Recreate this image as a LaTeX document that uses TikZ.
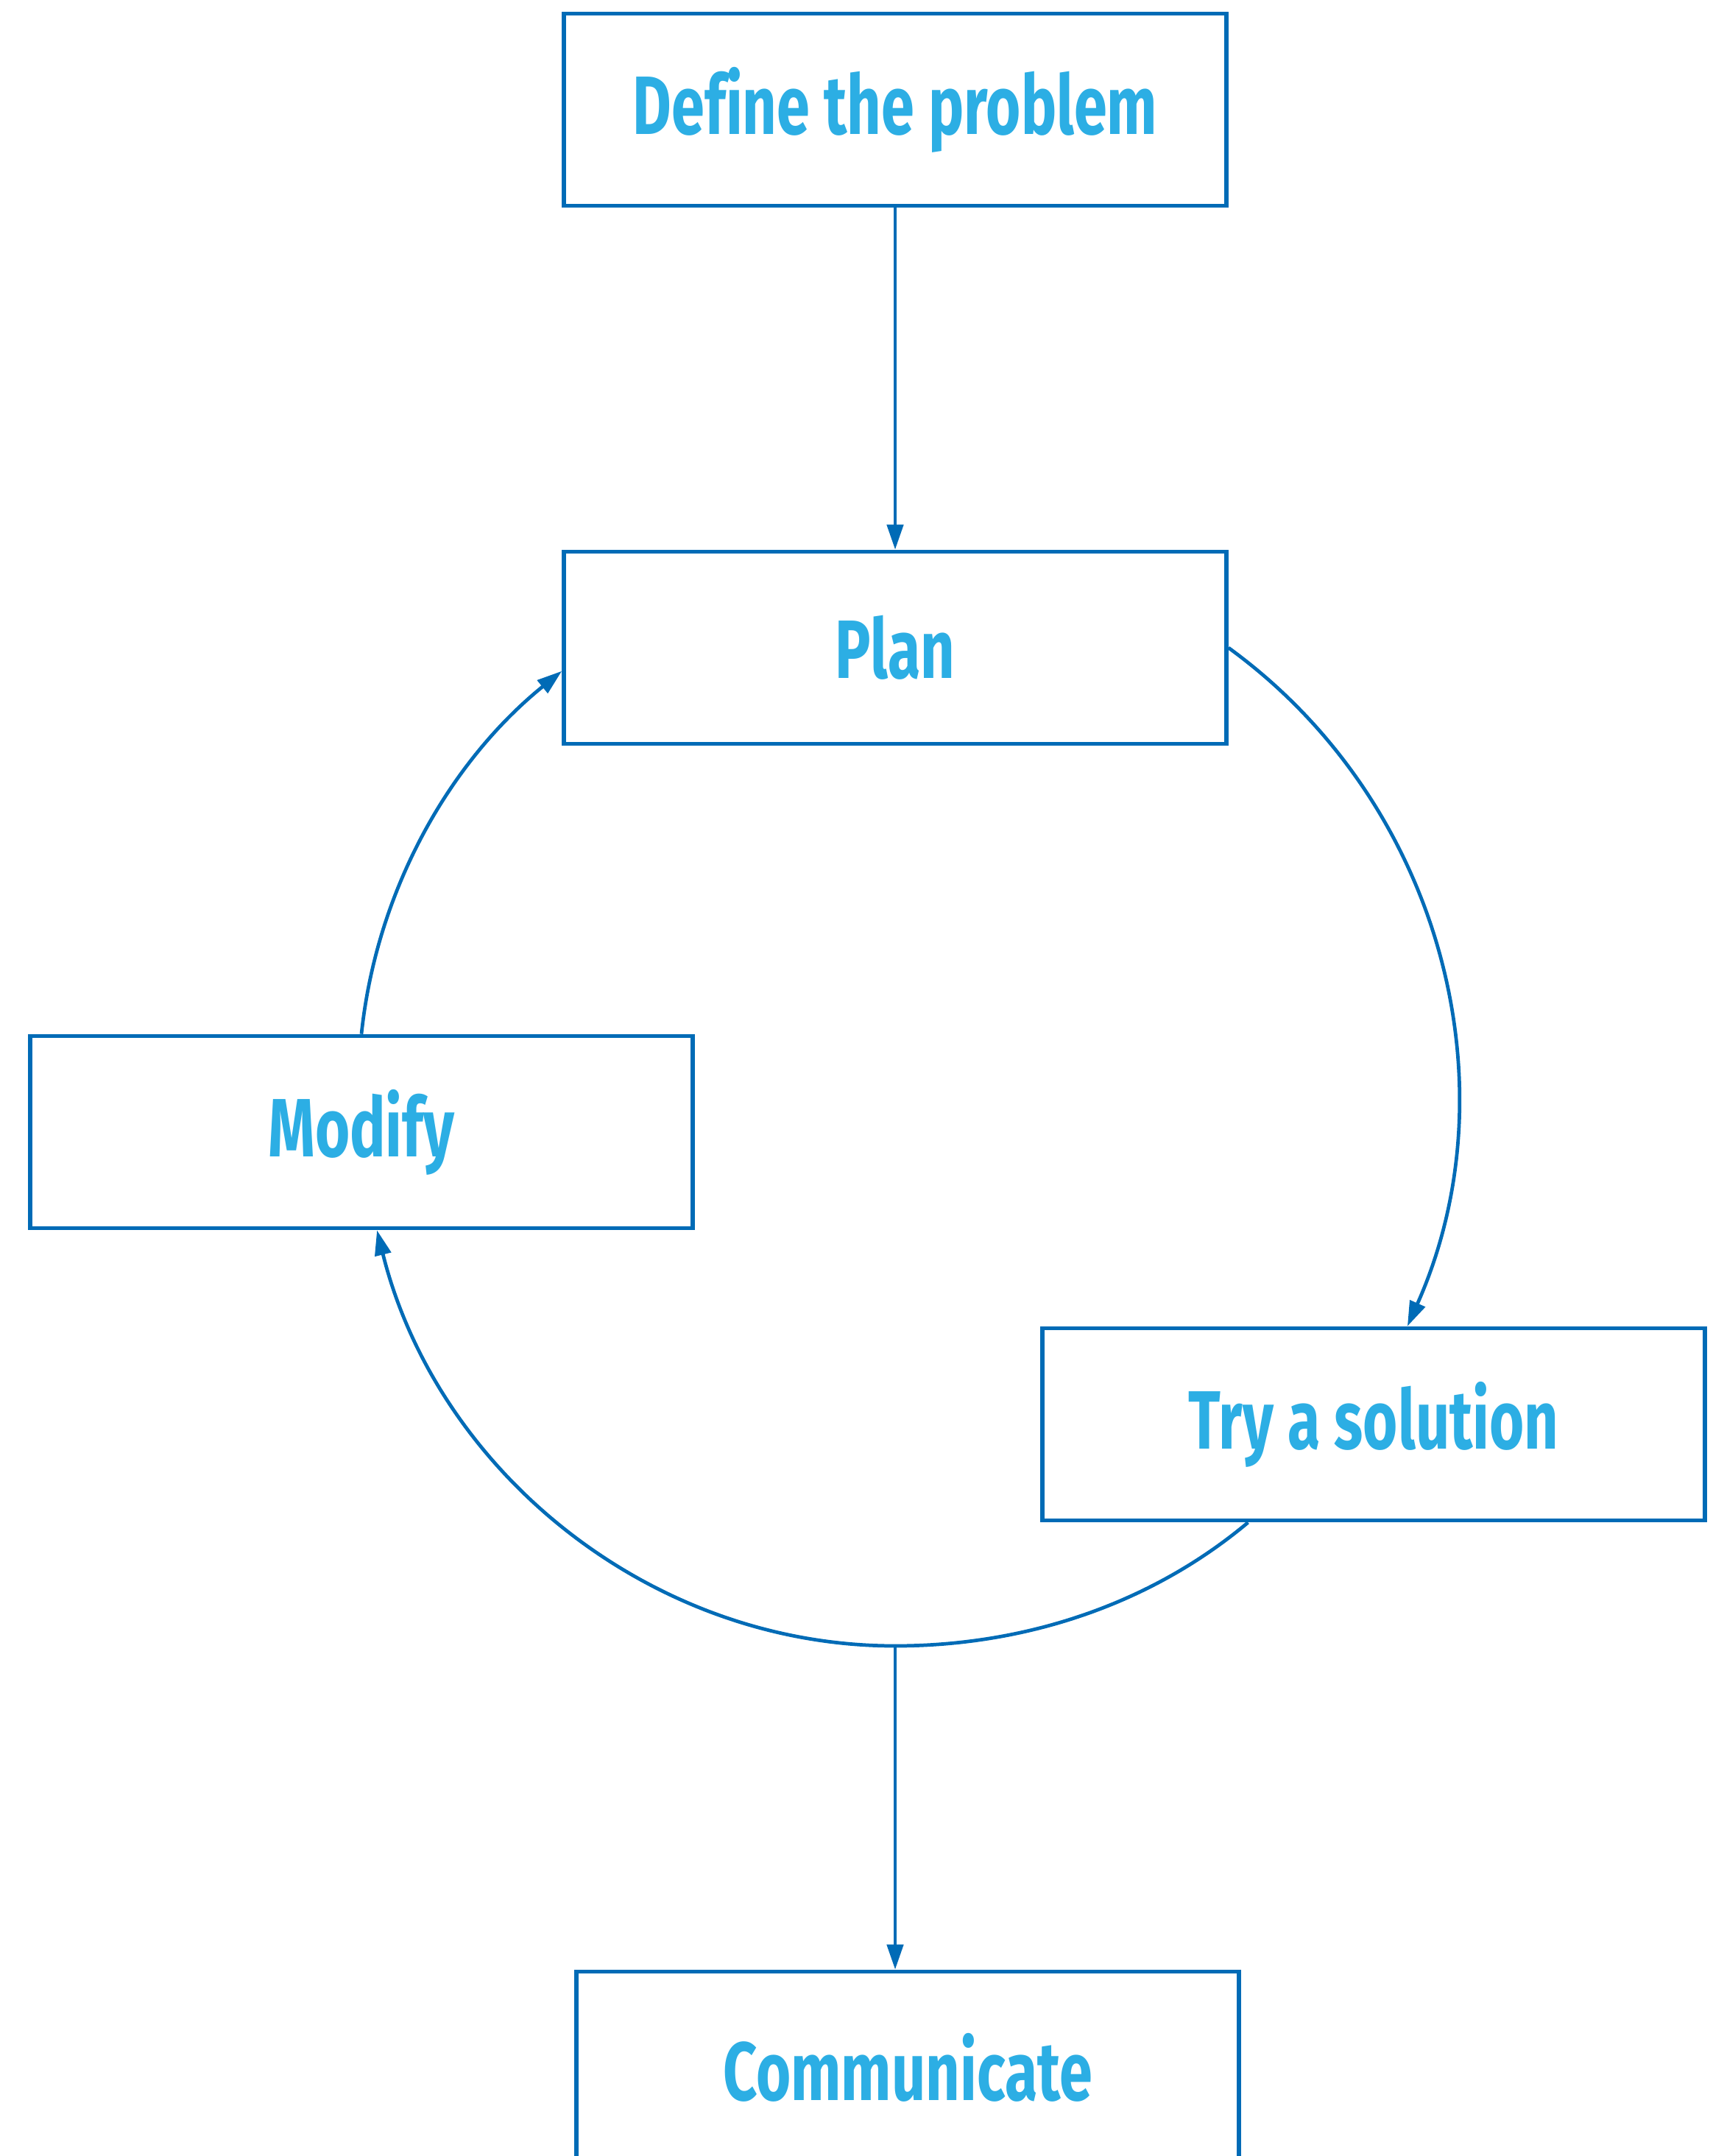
\documentclass[tikz,border=0pt]{standalone}
\usepackage{fontspec}
\setmainfont{Fira Sans}[FakeStretch=0.72, Ligatures=NoCommon]
\usetikzlibrary{arrows.meta}
\definecolor{boxblue}{RGB}{0,107,182}
\definecolor{textblue}{RGB}{44,174,228}

\begin{document}
\begin{tikzpicture}[
  stagebox/.style={draw=boxblue, line width=1.6pt, minimum width=9cm, minimum height=2.61cm,
    inner sep=0pt, text=textblue, font=\fontsize{32}{36}\selectfont\bfseries},
  flow/.style={draw=boxblue, line width=1.35pt, -{Triangle[length=0.34cm,width=0.22cm]}}
]
\useasboundingbox (0,0) rectangle (23.27,-29.29);
\clip (0,0) rectangle (23.27,-29.29);

\node[stagebox] (define) at (12.16,-1.49) {Define the problem};
\node[stagebox] (plan) at (12.16,-8.80) {Plan};
\node[stagebox] (modify) at (4.91,-15.38) {Modify};
\node[stagebox] (try) at (18.66,-19.35) {Try a solution};
\node[stagebox] (comm) at (12.33,-28.09) {Communicate};

\coordinate (join) at (12.16,-22.36);

\draw[flow] (define.south) -- (plan.north);
\draw[flow] (plan.east) to[out=-36, in=66, looseness=0.96] (try.71);
\draw[draw=boxblue, line width=1.35pt] (try.218) to[out=-140, in=0, looseness=0.88] (join);
\draw[flow] (join) to[out=180, in=-76, looseness=0.95] (modify.279);
\draw[flow] (modify.north) to[out=84, in=-141, looseness=0.89] (plan.184);
\draw[flow] (join) -- (join |- comm.north);
\end{tikzpicture}
\end{document}
